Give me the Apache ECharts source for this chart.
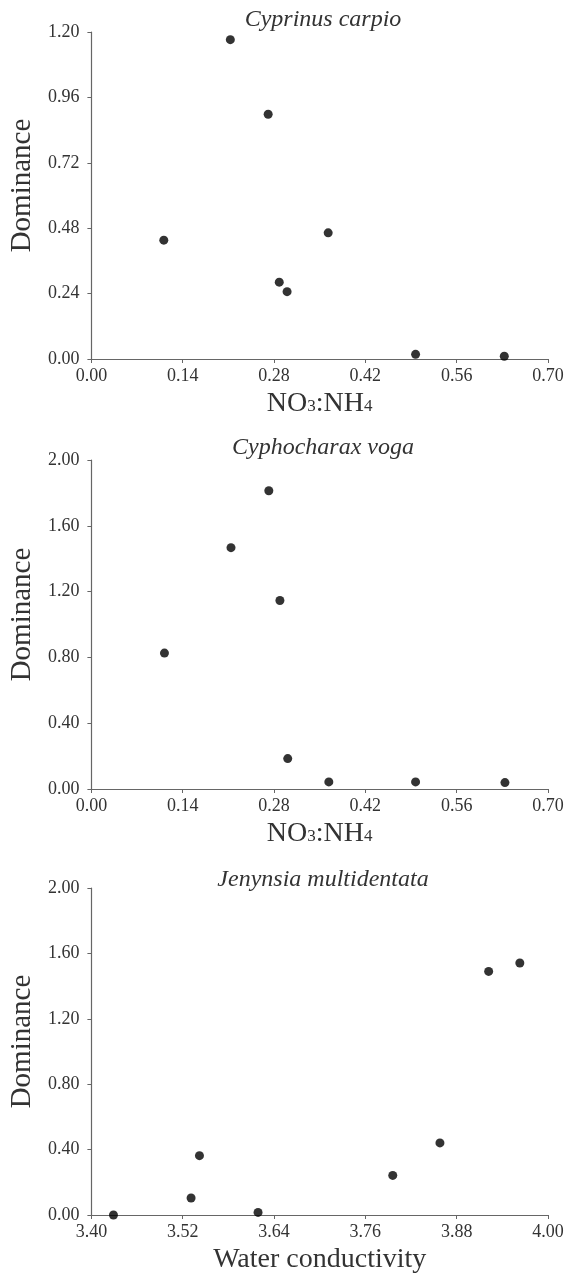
<!DOCTYPE html>
<html>
<head>
<meta charset="utf-8">
<title>Dominance scatter</title>
<script src="https://cdn.jsdelivr.net/npm/echarts@6/dist/echarts.min.js"></script>
<style>
  html, body { margin: 0; padding: 0; background: #fff; }
  #chart { width: 568px; height: 1275px; }
</style>
</head>
<body>
<div id="chart"></div>
<script>
// Cyprinus carpio vs NO3:NH4
var carpioX = [0.213, 0.271, 0.111, 0.363, 0.288, 0.300, 0.497, 0.633]
var carpioY = [1.172, 0.898, 0.436, 0.463, 0.282, 0.247, 0.017, 0.010]
// Cyphocharax voga vs NO3:NH4
var vogaX = [0.272, 0.214, 0.289, 0.112, 0.301, 0.364, 0.497, 0.634]
var vogaY = [1.813, 1.467, 1.146, 0.826, 0.185, 0.043, 0.043, 0.039]
// Jenynsia multidentata vs water conductivity
var jenX = [3.429, 3.531, 3.542, 3.619, 3.796, 3.858, 3.922, 3.963]
var jenY = [0.000, 0.104, 0.363, 0.016, 0.242, 0.441, 1.490, 1.541]

var titles = ['Cyprinus carpio', 'Cyphocharax voga', 'Jenynsia multidentata']
var yName = 'Dominance'
var xNames = ['{a|NO}{s|3}{a|:NH}{s|4}', '{a|NO}{s|3}{a|:NH}{s|4}', '{a|Water conductivity}']

var FONT = '"Liberation Serif", "DejaVu Serif", serif'
var TXT = '#333'
var AXIS = '#666'

function pairs(xs, ys) {
  return xs.map(function (x, i) { return [x, ys[i]] })
}

var grids = [
  { left: 89, right: 20, top: 32, height: 327 },
  { left: 89, right: 20, top: 460, height: 329 },
  { left: 89, right: 20, top: 888, height: 329 }
]

function xAxis(idx, min, max, interval) {
  return {
    type: 'value',
    gridIndex: idx,
    min: min,
    max: max,
    interval: interval,
    name: xNames[idx],
    nameLocation: 'middle',
    nameGap: 31,
    nameTextStyle: {
      rich: {
        a: { fontFamily: FONT, fontSize: 28, color: TXT },
        s: { fontFamily: FONT, fontSize: 17, color: TXT, padding: [6, 0, 0, 0] }
      }
    },
    splitLine: { show: false },
    axisLine: { show: true, lineStyle: { color: AXIS, width: 1.2 } },
    axisTick: { show: true, length: 4, lineStyle: { color: AXIS } },
    axisLabel: {
      margin: 8,
      fontFamily: FONT,
      fontSize: 18,
      color: TXT,
      showMinLabel: true,
      showMaxLabel: true,
      formatter: function (v) { return v.toFixed(2) }
    }
  }
}

function yAxis(idx, max, interval) {
  return {
    type: 'value',
    gridIndex: idx,
    min: 0,
    max: max,
    interval: interval,
    name: yName,
    nameLocation: 'middle',
    nameGap: 48,
    nameTextStyle: { fontFamily: FONT, fontSize: 29, color: TXT, padding: [0, 0, 0, 20] },
    splitLine: { show: false },
    axisLine: { show: true, lineStyle: { color: AXIS, width: 1.2 } },
    axisTick: { show: true, length: 4, lineStyle: { color: AXIS } },
    axisLabel: {
      margin: 12,
      fontFamily: FONT,
      fontSize: 18,
      color: TXT,
      formatter: function (v) { return v.toFixed(2) }
    }
  }
}

function scatter(idx, data) {
  return {
    type: 'scatter',
    xAxisIndex: idx,
    yAxisIndex: idx,
    data: data,
    symbolSize: 9,
    itemStyle: { color: '#000' },
    silent: true
  }
}

var chart = echarts.init(document.getElementById('chart'), null, { renderer: 'canvas' })
chart.setOption({
  animation: false,
  backgroundColor: '#fff',
  title: titles.map(function (t, i) {
    return {
      text: t,
      left: 318,
      top: [3, 431, 863][i],
      textAlign: 'center',
      textStyle: { fontFamily: FONT, fontSize: 24, fontStyle: 'italic', fontWeight: 'normal', color: TXT }
    }
  }),
  grid: grids,
  xAxis: [
    xAxis(0, 0, 0.70, 0.14),
    xAxis(1, 0, 0.70, 0.14),
    xAxis(2, 3.40, 4.00, 0.12)
  ],
  yAxis: [
    yAxis(0, 1.20, 0.24),
    yAxis(1, 2.00, 0.40),
    yAxis(2, 2.00, 0.40)
  ],
  series: [
    scatter(0, pairs(carpioX, carpioY)),
    scatter(1, pairs(vogaX, vogaY)),
    scatter(2, pairs(jenX, jenY))
  ]
})
</script>
</body>
</html>
